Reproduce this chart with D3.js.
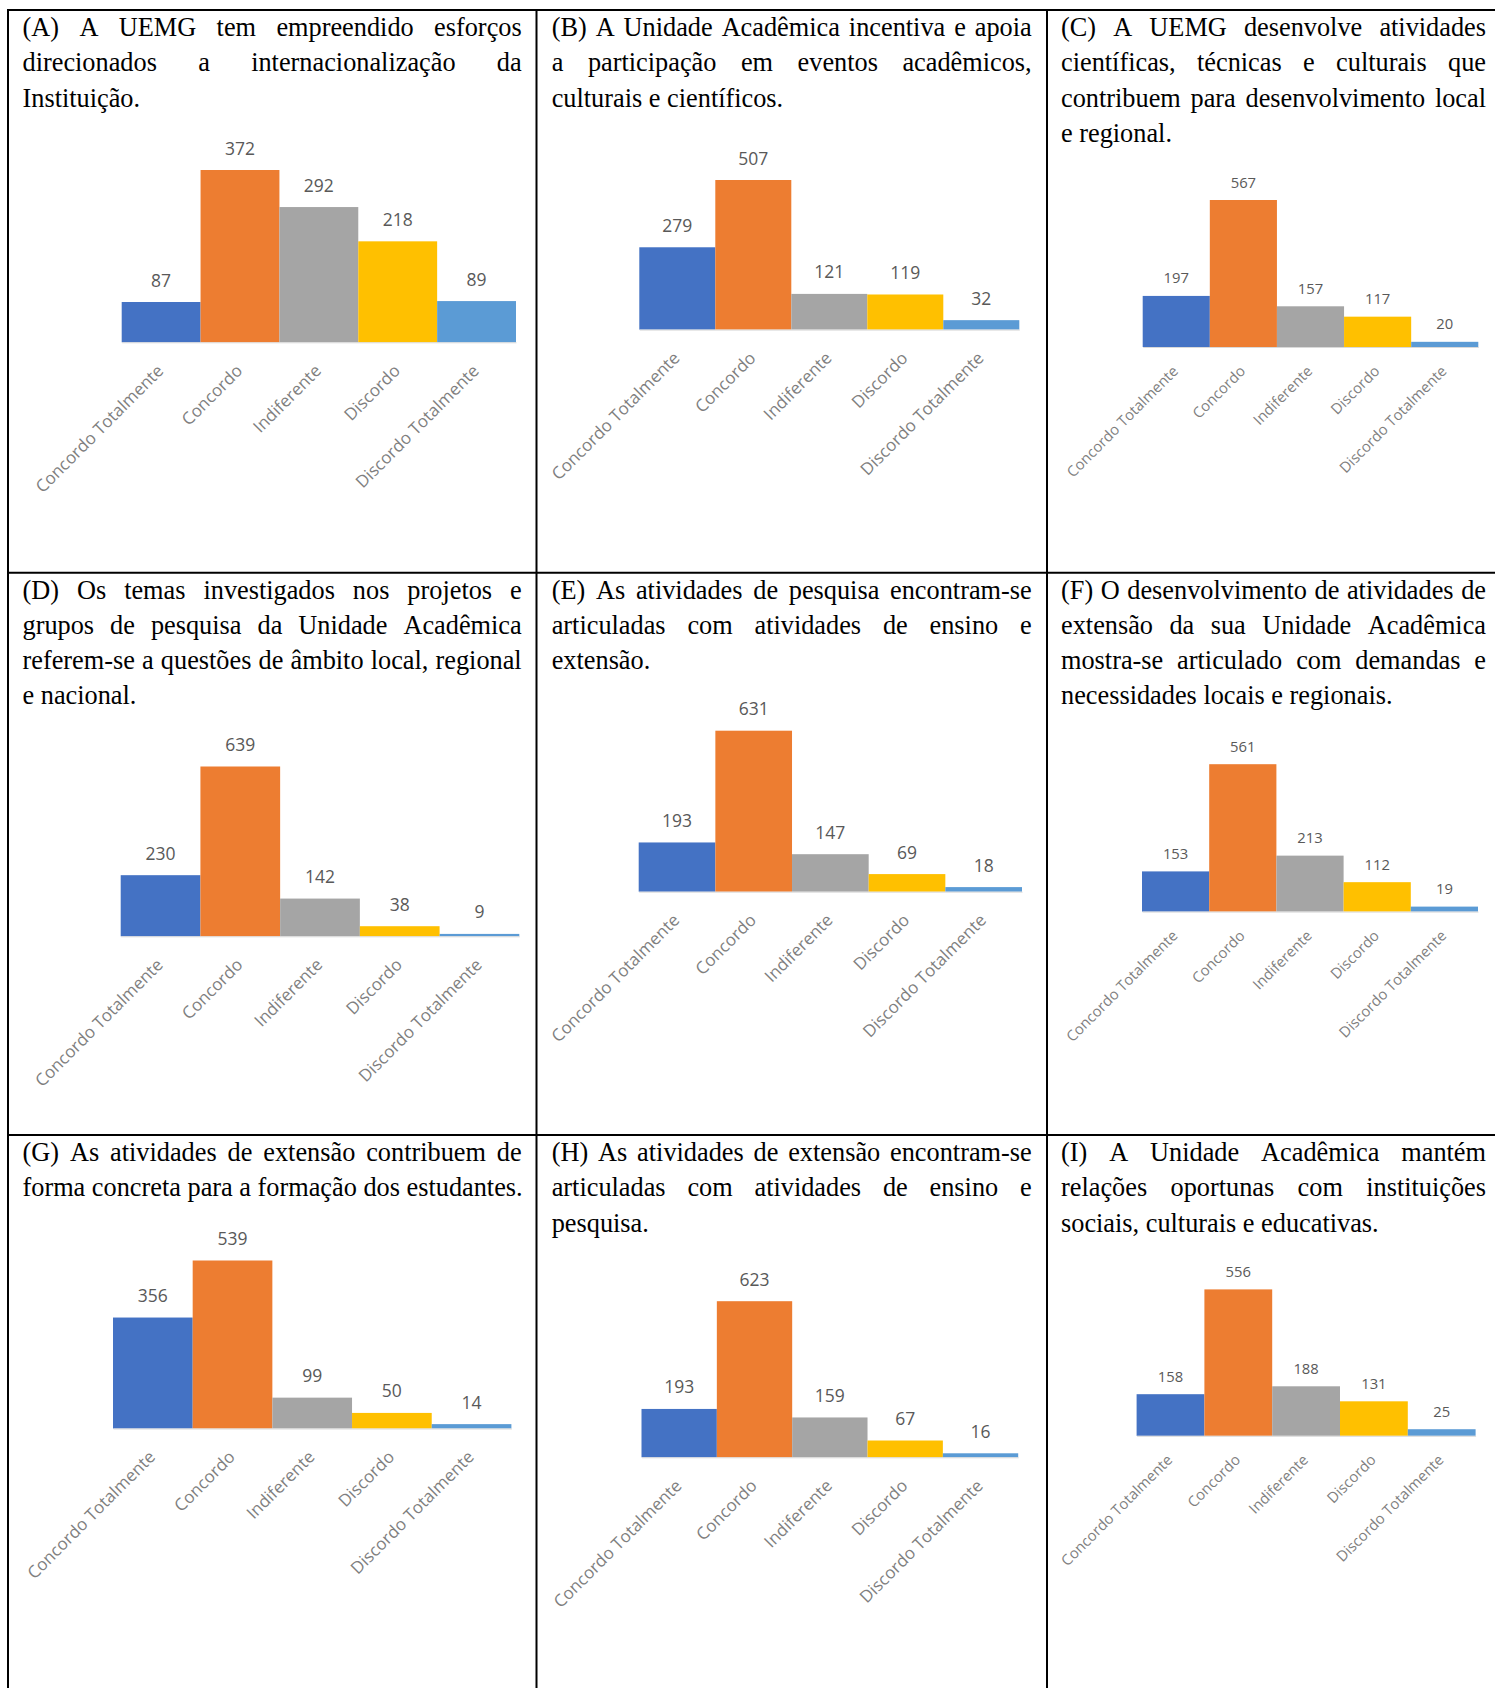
<!DOCTYPE html>
<html><head><meta charset="utf-8">
<script src="https://cdn.jsdelivr.net/npm/d3@7"></script>
<style>body{margin:0;background:#fff}svg{display:block}</style>
</head><body>
<svg id="c" width="1495" height="1688"></svg>
<script>
// ---------- DATA ----------
const categories = ["Concordo Totalmente", "Concordo", "Indiferente", "Discordo", "Discordo Totalmente"];
const colors = ["#4472C4", "#ED7D31", "#A5A5A5", "#FFC000", "#5B9BD5"];

const valuesA = [87, 372, 292, 218, 89];
const valuesB = [279, 507, 121, 119, 32];
const valuesC = [197, 567, 157, 117, 20];
const valuesD = [230, 639, 142, 38, 9];
const valuesE = [193, 631, 147, 69, 18];
const valuesF = [153, 561, 213, 112, 19];
const valuesG = [356, 539, 99, 50, 14];
const valuesH = [193, 623, 159, 67, 16];
const valuesI = [158, 556, 188, 131, 25];

const titleA = ["(A) A UEMG tem empreendido esforços", "direcionados a internacionalização da", "Instituição."];
const titleB = ["(B) A Unidade Acadêmica incentiva e apoia", "a participação em eventos acadêmicos,", "culturais e científicos."];
const titleC = ["(C) A UEMG desenvolve atividades", "científicas, técnicas e culturais que", "contribuem para desenvolvimento local", "e regional."];
const titleD = ["(D) Os temas investigados nos projetos e", "grupos de pesquisa da Unidade Acadêmica", "referem-se a questões de âmbito local, regional", "e nacional."];
const titleE = ["(E) As atividades de pesquisa encontram-se", "articuladas com atividades de ensino e", "extensão."];
const titleF = ["(F) O desenvolvimento de atividades de", "extensão da sua Unidade Acadêmica", "mostra-se articulado com demandas e", "necessidades locais e regionais."];
const titleG = ["(G) As atividades de extensão contribuem de", "forma concreta para a formação dos estudantes."];
const titleH = ["(H) As atividades de extensão encontram-se", "articuladas com atividades de ensino e", "pesquisa."];
const titleI = ["(I) A Unidade Acadêmica mantém", "relações oportunas com instituições", "sociais, culturais e educativas."];

// ---------- LAYOUT ----------
const svg = d3.select("#c");
const colText = [[22.5, 521.7], [551.7, 1031.7], [1061, 1486]];
const rowBase = [36.3, 599, 1161.3];
const lineH = 35.1;
const titleFont = 26.3;

const panels = [
  {title: titleA, values: valuesA, col: 0, row: 0, left: 121.7, right: 516, base: 342.3, top: 170, fs: 17.5, afs: 17},
  {title: titleB, values: valuesB, col: 1, row: 0, left: 639.3, right: 1019.3, base: 329.6, top: 180, fs: 17.5, afs: 17},
  {title: titleC, values: valuesC, col: 2, row: 0, left: 1142.7, right: 1478.3, base: 347, top: 200, fs: 14.8, afs: 14.8},
  {title: titleD, values: valuesD, col: 0, row: 1, left: 120.7, right: 519.3, base: 936.3, top: 766.5, fs: 17.5, afs: 17},
  {title: titleE, values: valuesE, col: 1, row: 1, left: 638.7, right: 1022, base: 891.7, top: 730.7, fs: 17.5, afs: 17},
  {title: titleF, values: valuesF, col: 2, row: 1, left: 1142, right: 1478, base: 911.6, top: 764.2, fs: 14.8, afs: 14.8},
  {title: titleG, values: valuesG, col: 0, row: 2, left: 113, right: 511.4, base: 1428.5, top: 1260.5, fs: 17.5, afs: 17},
  {title: titleH, values: valuesH, col: 1, row: 2, left: 641.5, right: 1018.2, base: 1457.3, top: 1301.2, fs: 17.5, afs: 17},
  {title: titleI, values: valuesI, col: 2, row: 2, left: 1136.6, right: 1475.6, base: 1435.8, top: 1289.4, fs: 14.8, afs: 14.8}
];

// ---------- TABLE GRID ----------
const vLines = [8, 536.5, 1047];
const hLines = [10, 572.7, 1135];
const grid = svg.append("g").attr("stroke", "#000").attr("stroke-width", 2);
vLines.forEach(x => grid.append("line").attr("x1", x).attr("x2", x).attr("y1", 9).attr("y2", 1688));
hLines.forEach(y => grid.append("line").attr("x1", 7).attr("x2", 1495).attr("y1", y).attr("y2", y));

// ---------- JUSTIFIED TITLES ----------
function justify(g, lines, x0, x1, y0) {
  lines.forEach((line, i) => {
    const words = line.split(" ");
    const y = y0 + i * lineH;
    const texts = words.map(w => g.append("text").attr("y", y).text(w));
    const widths = texts.map(t => t.node().getComputedTextLength());
    const total = d3.sum(widths);
    const last = i === lines.length - 1;
    const gap = (last || words.length === 1) ? titleFont * 0.25 : (x1 - x0 - total) / (words.length - 1);
    let x = x0;
    texts.forEach((t, j) => { t.attr("x", x); x += widths[j] + gap; });
  });
}

panels.forEach(p => {
  const tg = svg.append("g")
    .attr("font-family", "'Liberation Serif', 'Times New Roman', serif")
    .attr("font-size", titleFont).attr("fill", "#000");
  justify(tg, p.title, colText[p.col][0], colText[p.col][1], rowBase[p.row]);

  const x = d3.scaleBand().domain(categories).range([p.left, p.right]).padding(0);
  const vmax = d3.max(p.values);
  const y = d3.scaleLinear().domain([0, vmax]).range([p.base, p.top]);
  const g = svg.append("g");

  g.selectAll("rect").data(p.values).join("rect")
    .attr("x", (d, i) => x(categories[i]))
    .attr("width", x.bandwidth())
    .attr("y", d => y(d))
    .attr("height", d => p.base - y(d))
    .attr("fill", (d, i) => colors[i]);

  const axis = g.append("g").attr("transform", `translate(0,${p.base})`)
    .call(d3.axisBottom(x).tickSize(0).tickSizeOuter(0));
  axis.select(".domain").attr("stroke", "#d9d9d9").attr("stroke-width", 1);
  axis.selectAll("text")
    .attr("font-family", "'Open Sans', sans-serif")
    .attr("font-size", p.afs)
    .attr("fill", "#7f7f7f")
    .attr("text-anchor", "end")
    .attr("y", 0).attr("dy", 0)
    .attr("transform", `translate(${0.2 * p.fs},${1.69 * p.fs}) rotate(-45)`);

  const gap = p.fs > 16 ? 15.5 : 12.5;
  g.selectAll("text.val").data(p.values).join("text").attr("class", "val")
    .attr("x", (d, i) => x(categories[i]) + x.bandwidth() / 2)
    .attr("y", d => y(d) - gap)
    .attr("text-anchor", "middle")
    .attr("font-family", "'Open Sans', sans-serif")
    .attr("font-size", p.fs)
    .attr("fill", "#595959")
    .text(d => d);
});
</script>
</body></html>
